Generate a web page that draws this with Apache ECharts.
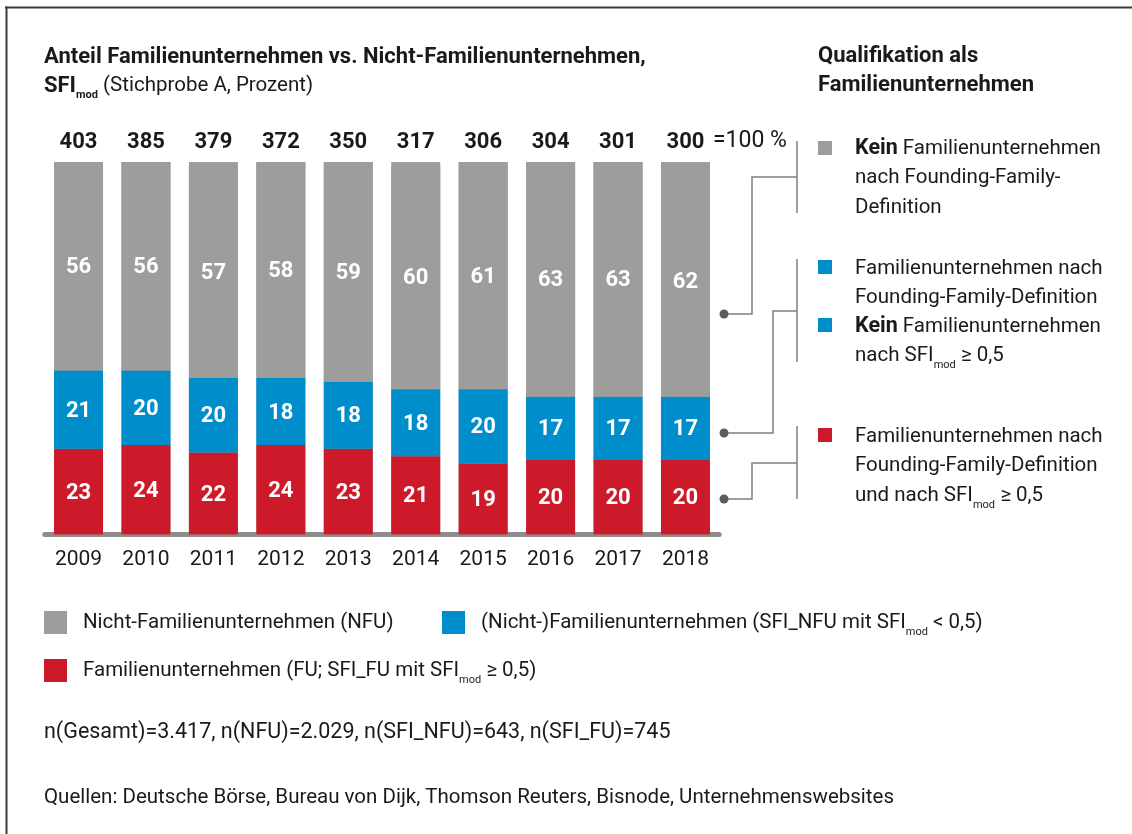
<!DOCTYPE html>
<html>
<head>
<meta charset="utf-8">
<script src="https://cdn.jsdelivr.net/npm/echarts@6/dist/echarts.min.js"></script>
<style>
html,body{margin:0;padding:0;background:#fff;}
#chart{width:1132px;height:834px;}
</style>
</head>
<body>
<div id="chart"></div>
<script>
// ---- data ----
const years = ['2009','2010','2011','2012','2013','2014','2015','2016','2017','2018'];
const totals = [403, 385, 379, 372, 350, 317, 306, 304, 301, 300];
const fullShare = [100, 100, 100, 100, 100, 100, 100, 100, 100, 100];
const nfu    = [56, 56, 57, 58, 59, 60, 61, 63, 63, 62];
const sfiNfu = [21, 20, 20, 18, 18, 18, 20, 17, 17, 17];
const fu     = [23, 24, 22, 24, 23, 21, 19, 20, 20, 20];
const seriesNames = ['Nicht-Familienunternehmen (NFU)',
  '(Nicht-)Familienunternehmen (SFI_NFU mit SFImod < 0,5)',
  'Familienunternehmen (FU; SFI_FU mit SFImod ≥ 0,5)'];
const nText = 'n(Gesamt)=3.417, n(NFU)=2.029, n(SFI_NFU)=643, n(SFI_FU)=745';
const sourceText = 'Quellen: Deutsche Börse, Bureau von Dijk, Thomson Reuters, Bisnode, Unternehmenswebsites';

const FONT = 'Roboto';
const TXT = '#1a1a1a';
const GRAY = '#9d9d9c', BLUE = '#008dcb', RED = '#cc1a2b';
const LINE = '#7f7f7f', DOT = '#5c5c5c';
const FS = 20.5, FSB = 22;

const chart = echarts.init(document.getElementById('chart'), null, {renderer:'canvas'});

const subRich = {
  b: {fontFamily: FONT, fontSize: FSB, fontWeight: 'bold', color: TXT, lineHeight: 30},
  r: {fontFamily: FONT, fontSize: FS, color: TXT, lineHeight: 30},
  s: {fontFamily: FONT, fontSize: 11, color: TXT, lineHeight: 11, verticalAlign: 'bottom'},
  sb: {fontFamily: FONT, fontSize: 11, fontWeight: 'bold', color: TXT, lineHeight: 11, verticalAlign: 'bottom'}
};

function legendFmt(name) {
  return name.split('SFImod').map(p => p ? '{r|' + p + '}' : '').join('{r|SFI}{s|mod}');
}

const labelInside = {
  show: true, position: 'inside', color: '#fff', fontFamily: FONT,
  fontSize: 22, fontWeight: 'bold', offset: [0, 1.5]
};

function txt(x, y, text, extra) {
  return {type: 'text', silent: true, style: Object.assign({
    x: x, y: y, text: text, fontFamily: FONT, fontSize: FS, fill: TXT,
    verticalAlign: 'middle', align: 'left'
  }, extra || {})};
}
function line(points) {
  return {type: 'polyline', silent: true, shape: {points: points},
    style: {stroke: LINE, lineWidth: 1.5, fill: null}};
}
function dot(x, y) {
  return {type: 'circle', silent: true, shape: {cx: x, cy: y, r: 4.5}, style: {fill: DOT}};
}
function sq(x, y, c) {
  return {type: 'rect', silent: true, shape: {x: x, y: y, width: 14, height: 14}, style: {fill: c}};
}

const richRight = {
  b: {fontFamily: FONT, fontSize: 21.5, fontWeight: 'bold', color: TXT, lineHeight: 29.5},
  r: {fontFamily: FONT, fontSize: FS, color: TXT, lineHeight: 29.5},
  s: {fontFamily: FONT, fontSize: 11, color: TXT, lineHeight: 10, verticalAlign: 'bottom'}
};

function legendCfg(left, top, name) {
  return {left: left, top: top, padding: 0, itemWidth: 23, itemHeight: 23, icon: 'rect',
    selectedMode: false, data: [name], formatter: legendFmt,
    textStyle: {padding: [0, 0, 0, 11], rich: subRich, fontSize: FS, color: TXT}};
}

const option = {
  animation: false,
  backgroundColor: '#fff',
  textStyle: {fontFamily: FONT},
  grid: {left: 44.8, right: 412.8, top: 162, bottom: 299.5, containLabel: false},
  legend: [
    legendCfg(44, 611, seriesNames[0]),
    legendCfg(442, 611, seriesNames[1]),
    legendCfg(44, 659, seriesNames[2])
  ],
  xAxis: {
    type: 'category', data: years,
    axisLine: {lineStyle: {color: '#8c8c8c', width: 5}},
    axisTick: {show: false},
    axisLabel: {fontFamily: FONT, fontSize: 21, color: TXT, margin: 15}
  },
  yAxis: {type: 'value', min: 0, max: 100, show: false, splitLine: {show: false}},
  series: [
    {name: '100%', type: 'bar', data: fullShare, barWidth: 49, barGap: '-100%', z: 1,
     silent: true, itemStyle: {color: GRAY},
     label: {show: true, position: 'top', distance: 9, fontFamily: FONT, fontSize: 22,
       fontWeight: 'bold', color: TXT, formatter: p => String(totals[p.dataIndex])}},
    {name: seriesNames[2], type: 'bar', stack: 's', data: fu, barWidth: 49, z: 2,
     itemStyle: {color: RED}, label: labelInside},
    {name: seriesNames[1], type: 'bar', stack: 's', data: sfiNfu, barWidth: 49, z: 2,
     itemStyle: {color: BLUE}, label: labelInside},
    {name: seriesNames[0], type: 'bar', stack: 's', data: nfu, barWidth: 49, z: 2,
     itemStyle: {color: GRAY}, label: labelInside}
  ],
  graphic: [
    // frame
    {type: 'line', silent: true, shape: {x1: 5, y1: 7.5, x2: 1132, y2: 7.5}, style: {stroke: '#3a3a3a', lineWidth: 2}},
    {type: 'line', silent: true, shape: {x1: 6.5, y1: 6.5, x2: 6.5, y2: 834}, style: {stroke: '#3a3a3a', lineWidth: 2}},
    // title
    txt(44, 57, 'Anteil Familienunternehmen vs. Nicht-Familienunternehmen,', {fontWeight: 'bold', fontSize: FSB}),
    txt(44, 86, '{b|SFI}{sb|mod}{r| (Stichprobe A, Prozent)}', {rich: subRich}),
    txt(713, 141, '=100 %', {fontSize: 23}),
    // right header
    txt(818, 56, 'Qualifikation als', {fontWeight: 'bold', fontSize: FSB}),
    txt(818, 85, 'Familienunternehmen', {fontWeight: 'bold', fontSize: FSB}),
    // right legend
    sq(818, 141, GRAY),
    txt(855, 134, '{b|Kein}{r| Familienunternehmen}\n{r|nach Founding-Family-}\n{r|Definition}', {rich: richRight, verticalAlign: 'top'}),
    sq(818, 260, BLUE),
    txt(855, 254, '{r|Familienunternehmen nach}\n{r|Founding-Family-Definition}', {rich: richRight, verticalAlign: 'top'}),
    sq(818, 318, BLUE),
    txt(855, 312, '{b|Kein}{r| Familienunternehmen}\n{r|nach SFI}{s|mod}{r| ≥ 0,5}', {rich: richRight, verticalAlign: 'top'}),
    sq(818, 428, RED),
    txt(855, 422, '{r|Familienunternehmen nach}\n{r|Founding-Family-Definition}\n{r|und nach SFI}{s|mod}{r| ≥ 0,5}', {rich: richRight, verticalAlign: 'top'}),
    // connectors
    line([[797, 141], [797, 213]]),
    line([[797, 177], [752, 177], [752, 314], [724, 314]]),
    dot(724, 314),
    line([[797, 259], [797, 362]]),
    line([[797, 311], [773, 311], [773, 433], [724, 433]]),
    dot(724, 433),
    line([[797, 426], [797, 499]]),
    line([[797, 463], [752, 463], [752, 499], [724, 499]]),
    dot(724, 499),
    // notes
    txt(44, 733, nText, {fontSize: 21.5}),
    txt(44, 798, sourceText)
  ]
};
chart.setOption(option);
</script>
</body>
</html>
